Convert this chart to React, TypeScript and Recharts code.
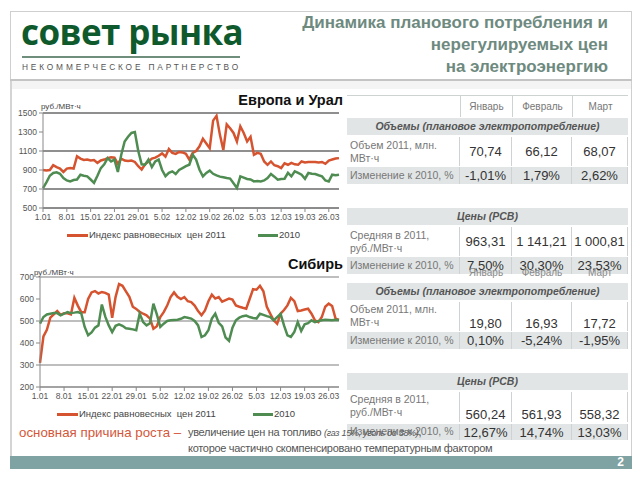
import { CartesianGrid, Line, LineChart, XAxis, YAxis } from 'recharts'

// 1 Jan .. 28 Mar 2011, daily
const monthLengths = [31, 28, 31]
const dayCount = 88
const days: string[] = []
monthLengths.forEach((n, m) => {
  for (let d = 1; d <= n; d++) days.push(`${d}.0${m + 1}`)
})

const euroIndex2011 = [
  900, 895, 900, 950, 930, 915, 880, 915, 920, 915,
  1045, 1020, 1005, 1010, 1000, 1005, 975, 1000, 1010, 1025,
  1035, 1030, 965, 1020, 1000, 995, 1000, 985, 940, 905,
  960, 990, 1020, 1030, 1050, 1075, 1040, 1120, 1080, 1070,
  1090, 1085, 1070, 1010, 1080, 1100, 1150, 1230, 1180, 1130,
  1420, 1470, 1270, 1110, 1380, 1340, 1290, 1200, 1360, 1290,
  1200, 1250, 1060, 1080, 1070, 990, 955, 990, 950, 940,
  920, 970, 955, 975, 960, 955, 990, 980, 985, 985,
  985, 980, 985, 965, 1000, 1010, 1020, 1025,
]
const euroIndex2010 = [
  710, 770, 840, 868, 875, 860, 816, 790, 780, 795,
  800, 850, 840, 833, 800, 765, 840, 920, 960, 1025,
  990, 1010, 880, 1060, 1200, 1250, 1290, 1300, 1100, 960,
  955, 1010, 930, 990, 1010, 900, 835, 870, 886, 858,
  900, 920, 940, 955, 1060, 1010, 903, 833, 870, 893,
  860, 844, 830, 823, 816, 810, 760, 710, 833, 820,
  805, 800, 780, 785, 780, 790, 816, 858, 830, 798,
  805, 808, 870, 833, 886, 870, 850, 808, 868, 860,
  858, 845, 833, 790, 780, 850, 844, 850,
]
const sibIndex2011 = [
  310, 430, 460, 515, 530, 545, 528, 535, 535, 530,
  605, 570, 540, 540, 600, 630, 636, 625, 632, 628,
  620, 515, 610, 668, 660, 635, 610, 565, 555, 541,
  533, 526, 511, 465, 476, 518, 540, 570, 609, 630,
  610, 600, 609, 590, 586, 570, 545, 526, 548, 590,
  620, 602, 609, 588, 595, 602, 597, 571, 565, 560,
  556, 600, 645, 642, 660, 635, 564, 533, 503, 488,
  533, 550, 571, 605, 590, 545, 548, 552, 556, 533,
  503, 495, 518, 565, 579, 568, 511, 505,
]
const sibIndex2010 = [
  488, 518, 530, 533, 536, 536, 526, 533, 541, 536,
  538, 541, 535, 473, 435, 448, 470, 480, 575, 520,
  480, 450, 478, 485, 478, 467, 465, 462, 458, 533,
  495, 480, 490, 579, 530, 473, 488, 500, 503, 505,
  506, 510, 518, 515, 511, 500, 480, 427, 435, 458,
  511, 533, 492, 475, 425, 410, 470, 503, 515, 522,
  525, 518, 514, 511, 533, 528, 522, 518, 503, 518,
  533, 480, 435, 428, 450, 495, 455, 485, 490, 503,
  495, 500, 503, 506, 505, 503, 506, 505,
]
const euroTicks = [500, 700, 900, 1100, 1300, 1500]
const sibTicks = [200, 300, 400, 500, 600, 700]

const months = ['Январь', 'Февраль', 'Март']
const euroVolume = ['70,74', '66,12', '68,07']
const euroVolumeChange = ['-1,01%', '1,79%', '2,62%']
const euroPrice = ['963,31', '1 141,21', '1 000,81']
const euroPriceChange = ['7,50%', '30,30%', '23,53%']
const sibVolume = ['19,80', '16,93', '17,72']
const sibVolumeChange = ['0,10%', '-5,24%', '-1,95%']
const sibPrice = ['560,24', '561,93', '558,32']
const sibPriceChange = ['12,67%', '14,74%', '13,03%']

const euroData = days.slice(0, dayCount).map((day, i) => ({
  day,
  y2011: euroIndex2011[i],
  y2010: euroIndex2010[i],
}))
const sibData = days.slice(0, dayCount).map((day, i) => ({
  day,
  y2011: sibIndex2011[i],
  y2010: sibIndex2010[i],
}))

const RED = '#d5532f'
const GREEN = '#4f8c52'
const SANS = '"Liberation Sans", Arial, sans-serif'
const COLS = [347, 460, 512, 572, 628]
const BAND = '#e1e5e5'
const LINE = '#cdd2d2'

type ChartProps = {
  data: { day: string; y2011: number; y2010: number }[]
  ticks: number[]
  top: number
  height: number
  margin: { top: number; right: number; bottom: number; left: number }
  yWidth: number
  grid: string
}

function PriceChart({ data, ticks, top, height, margin, yWidth, grid }: ChartProps) {
  const tick = { fontSize: 8.5, fill: '#555', fontFamily: SANS }
  return (
    <div style={{ position: 'absolute', left: 0, top }}>
      <LineChart width={345} height={height} data={data} margin={margin}>
        <CartesianGrid vertical={false} stroke={grid} strokeWidth={1.3} />
        <XAxis
          dataKey='day'
          interval={6}
          tick={tick}
          tickSize={4}
          stroke='#888'
          height={20}
        />
        <YAxis
          domain={[ticks[0], ticks[ticks.length - 1]]}
          ticks={ticks}
          width={yWidth}
          tick={tick}
          tickSize={4}
          stroke='#888'
        />
        <Line dataKey='y2011' stroke={RED} strokeWidth={2.5} dot={false} isAnimationActive={false} />
        <Line dataKey='y2010' stroke={GREEN} strokeWidth={2.5} dot={false} isAnimationActive={false} />
      </LineChart>
    </div>
  )
}

function Legend({ top, redX, greenX }: { top: number; redX: number; greenX: number }) {
  const txt = { position: 'absolute' as const, top: top - 6, fontSize: 9.5, color: '#444', fontFamily: SANS, whiteSpace: 'nowrap' as const }
  return (
    <>
      <div style={{ position: 'absolute', left: redX, top: top - 1, width: 21, height: 3, background: RED }} />
      <div style={{ ...txt, left: redX + 22 }}>Индекс равновесных&nbsp; цен 2011</div>
      <div style={{ position: 'absolute', left: greenX, top: top - 1, width: 20, height: 3, background: GREEN }} />
      <div style={{ ...txt, left: greenX + 21 }}>2010</div>
    </>
  )
}

function Box({ x, y, w, h, bg, children, style }: any) {
  return (
    <div
      style={{
        position: 'absolute',
        left: x,
        top: y,
        width: w,
        height: h,
        background: bg,
        boxSizing: 'border-box',
        fontFamily: SANS,
        ...style,
      }}
    >
      {children}
    </div>
  )
}

function Band({ y, text }: { y: number; text: string }) {
  return (
    <Box
      x={COLS[0]}
      y={y}
      w={COLS[4] - COLS[0]}
      h={17}
      bg={BAND}
      style={{ fontSize: 10.5, fontStyle: 'italic', fontWeight: 'bold', color: '#555', textAlign: 'center', lineHeight: '17px' }}
    >
      {text}
    </Box>
  )
}

function DataRow({ y, h, label, values, shaded, valueTop, labelTop }: any) {
  return (
    <>
      <Box
        x={COLS[0]}
        y={y}
        w={COLS[1] - COLS[0]}
        h={h}
        bg={shaded ? BAND : '#fff'}
        style={{ borderRight: `1px solid ${LINE}`, fontSize: 10.5, color: '#777', padding: `${labelTop}px 0 0 3px`, lineHeight: '13px', whiteSpace: 'pre' }}
      >
        {label}
      </Box>
      {values.map((v: string, i: number) => (
        <Box
          key={i}
          x={COLS[i + 1]}
          y={y}
          w={COLS[i + 2] - COLS[i + 1]}
          h={h}
          bg={shaded ? BAND : '#fff'}
          style={{ borderRight: `1px solid ${LINE}`, fontSize: 13, color: '#333', textAlign: 'center', paddingTop: valueTop, lineHeight: '15px' }}
        >
          {v}
        </Box>
      ))}
    </>
  )
}

function MonthHeader({ y, h, over }: { y: number; h: number; over?: boolean }) {
  return (
    <>
      {months.map((m, i) => (
        <Box
          key={m}
          x={COLS[i + 1]}
          y={y}
          w={COLS[i + 2] - COLS[i + 1]}
          h={h}
          style={{ borderLeft: over ? 'none' : `1px solid ${LINE}`, fontSize: 10, color: over ? '#8a8a8a' : '#777', textAlign: 'center', lineHeight: `${h}px` }}
        >
          {m}
        </Box>
      ))}
    </>
  )
}

export default function App() {
  return (
    <div style={{ position: 'absolute', left: 0, top: 0, width: 640, height: 480, background: '#fff', overflow: 'hidden', fontFamily: SANS }}>
      {/* slide frame */}
      <Box x={10} y={11} w={622} h={457} style={{ border: '1px solid #cfcfcf' }} />
      <Box x={10} y={79} w={622} h={2} bg='#c4c4c4' />
      <Box x={11} y={81} w={620} h={8} bg='#f4f4f4' />
      <Box x={10} y={81} w={2} h={375} bg='#d4d4d4' />

      {/* logo */}
      <Box x={21} y={12} w={240} h={40} style={{ fontFamily: '"Open Sans", sans-serif', fontWeight: 'bold', fontSize: 35, color: '#0f5a2d', letterSpacing: -0.6, lineHeight: '40px' }}>
        совет рынка
      </Box>
      <Box x={22} y={56} w={218} h={1.5} bg='#6f8f7c' />
      <Box x={22} y={61} w={230} h={12} style={{ fontSize: 8.3, letterSpacing: 2.85, color: '#555', lineHeight: '12px', whiteSpace: 'nowrap' }}>
        НЕКОММЕРЧЕСКОЕ ПАРТНЕРСТВО
      </Box>

      {/* title */}
      <Box x={260} y={12} w={348} h={70} style={{ fontSize: 17, fontWeight: 'bold', color: '#6e8a7f', textAlign: 'right', lineHeight: '22px' }}>
        Динамика планового потребления и<br />
        нерегулируемых цен<br />
        на электроэнергию
      </Box>

      {/* Europe & Ural */}
      <PriceChart
        data={euroData}
        ticks={euroTicks}
        top={85}
        height={170}
        margin={{ top: 28, right: 6, bottom: 27, left: 0 }}
        yWidth={43}
        grid='#6a6a6a'
      />
      <Box x={150} y={92} w={193} h={18} style={{ fontSize: 14.5, fontWeight: 'bold', color: '#111', textAlign: 'right' }}>
        Европа и Урал
      </Box>
      <Box x={41} y={102} w={60} h={10} style={{ fontSize: 8, color: '#444' }}>руб./МВт·ч</Box>
      <Legend top={235} redX={67} greenX={258} />

      {/* Siberia */}
      <PriceChart
        data={sibData}
        ticks={sibTicks}
        top={255}
        height={175}
        margin={{ top: 22, right: 6, bottom: 23, left: 0 }}
        yWidth={40}
        grid='#a8a8a8'
      />
      <Box x={240} y={256} w={103} h={18} style={{ fontSize: 14.5, fontWeight: 'bold', color: '#111', textAlign: 'right' }}>
        Сибирь
      </Box>
      <Box x={34} y={268} w={60} h={10} style={{ fontSize: 8, color: '#444' }}>руб./МВт·ч</Box>
      <Legend top={414} redX={57} greenX={253} />

      {/* table: Europe & Ural */}
      <Box x={COLS[0]} y={95} w={COLS[4] - COLS[0]} h={1} bg={LINE} />
      <MonthHeader y={96} h={21} />
      <Band y={118} text='Объемы (плановое электропотребление)' />
      <DataRow y={137} h={29} label={'Объем 2011, млн.\nМВт·ч'} values={euroVolume} valueTop={7} labelTop={2} />
      <DataRow y={167} h={17} label='Изменение к 2010, %' values={euroVolumeChange} shaded valueTop={1} labelTop={2} />
      <Band y={208} text='Цены (РСВ)' />
      <DataRow y={227} h={29} label={'Средняя в 2011,\nруб./МВт·ч'} values={euroPrice} valueTop={7} labelTop={2} />
      <DataRow y={257} h={17} label='Изменение к 2010, %' values={euroPriceChange} shaded valueTop={1} labelTop={2} />

      {/* table: Siberia, its header slips under the row above as in the slide */}
      <MonthHeader y={266} h={14} over />
      <Band y={283} text='Объемы (плановое электропотребление)' />
      <DataRow y={302} h={29} label={'Объем 2011, млн.\nМВт·ч'} values={sibVolume} valueTop={14} labelTop={1} />
      <DataRow y={332} h={17} label='Изменение к 2010, %' values={sibVolumeChange} shaded valueTop={1} labelTop={2} />
      <Band y={373} text='Цены (РСВ)' />
      <DataRow y={392} h={30} label={'Средняя в 2011,\nруб./МВт·ч'} values={sibPrice} valueTop={15} labelTop={1} />
      <DataRow y={424} h={16} label='Изменение к 2010, %' values={sibPriceChange} shaded valueTop={1} labelTop={1} />

      {/* footnote */}
      <Box x={19} y={425} w={170} h={16} style={{ fontSize: 13.3, color: '#d4573a', whiteSpace: 'nowrap' }}>
        основная причина роста –
      </Box>
      <Box x={188} y={426} w={300} h={14} style={{ fontSize: 11, color: '#555', whiteSpace: 'nowrap', letterSpacing: -0.3 }}>
        увеличение цен на топливо <i style={{ fontSize: 9 }}>(газ 15%, уголь до 38%)</i>,
      </Box>
      <Box x={188} y={442} w={360} h={14} style={{ fontSize: 11, color: '#555', whiteSpace: 'nowrap', letterSpacing: -0.3 }}>
        которое частично скомпенсировано температурным фактором
      </Box>

      {/* footer */}
      <Box x={10} y={456} w={622} h={13} bg='#7fa2a2' style={{ color: '#fff', fontWeight: 'bold', fontSize: 12, textAlign: 'right', paddingRight: 8, lineHeight: '13px' }}>
        2
      </Box>
    </div>
  )
}
